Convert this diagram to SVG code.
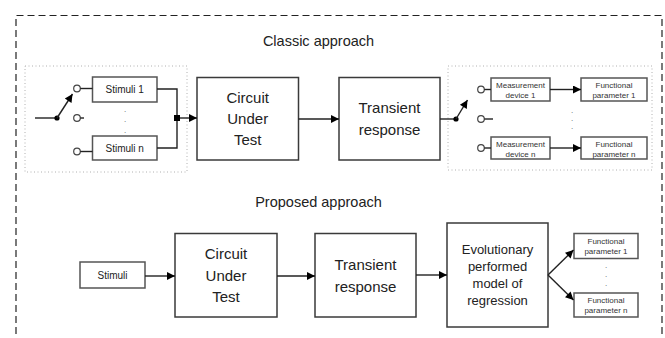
<svg xmlns="http://www.w3.org/2000/svg" width="665" height="338" viewBox="0 0 665 338">
  <defs>
    <marker id="arrow" viewBox="0 0 10 10" refX="10" refY="5" markerWidth="10" markerHeight="8" markerUnits="userSpaceOnUse" orient="auto">
      <path d="M0,0 L10,5 L0,10 z" fill="#000"/>
    </marker>
    <style>
      .frame { fill: none; stroke: #222; stroke-width: 1.2; stroke-dasharray: 7 4; }
      .group { fill: none; stroke: #b0b0b0; stroke-width: 1; stroke-dasharray: 1 2.5; }
      .big { fill: #fff; stroke: #3a3a3a; stroke-width: 1.5; }
      .small { fill: #fff; stroke: #555; stroke-width: 1.5; }
      .wire { fill: none; stroke: #222; stroke-width: 1.4; }
      .arr { fill: none; stroke: #222; stroke-width: 1.4; marker-end: url(#arrow); }
      .pin { fill: #fff; stroke: #444; stroke-width: 1.2; }
      .title { font-family: "Liberation Sans", Arial, sans-serif; font-size: 14.5px; fill: #222; text-anchor: middle; }
      .lbl { font-family: "Liberation Sans", Arial, sans-serif; font-size: 15px; fill: #222; text-anchor: middle; }
      .lbl13 { font-family: "Liberation Sans", Arial, sans-serif; font-size: 13px; fill: #222; text-anchor: middle; }
      .lbl10 { font-family: "Liberation Sans", Arial, sans-serif; font-size: 10px; fill: #222; text-anchor: middle; }
      .lbl8 { font-family: "Liberation Sans", Arial, sans-serif; font-size: 8px; fill: #333; text-anchor: middle; }
      .dot { font-family: "Liberation Sans", Arial, sans-serif; font-size: 8px; fill: #555; text-anchor: middle; }
    </style>
  </defs>

  <rect width="665" height="338" fill="#fff"/>

  <!-- outer dashed frame (open at the bottom) -->
  <path class="frame" d="M16,345 L16,15.5 L662,15.5 L662,345"/>

  <!-- section titles -->
  <text class="title" x="318.5" y="46">Classic approach</text>
  <text class="title" x="318.5" y="207">Proposed approach</text>

  <!-- dotted groups -->
  <rect class="group" x="25" y="66" width="162" height="106"/>
  <rect class="group" x="448" y="66" width="204" height="104"/>

  <!-- classic approach: stimuli selector -->
  <g id="stimuli-1">
    <rect class="small" x="92.5" y="77" width="64.5" height="25"/>
    <text class="lbl10" x="124.7" y="93">Stimuli 1</text>
  </g>
  <g id="stimuli-n">
    <rect class="small" x="92.5" y="136" width="64.5" height="24"/>
    <text class="lbl10" x="124.7" y="151.5">Stimuli n</text>
  </g>
  <text class="dot" x="125" y="112">.</text>
  <text class="dot" x="125" y="122">.</text>
  <text class="dot" x="125" y="133">.</text>

  <g id="cut-classic">
    <rect class="big" x="197" y="77.5" width="101.5" height="82.5"/>
    <text class="lbl" x="247.7" y="103">Circuit</text>
    <text class="lbl" x="247.7" y="124">Under</text>
    <text class="lbl" x="247.7" y="145">Test</text>
  </g>
  <g id="transient-classic">
    <rect class="big" x="339" y="77.5" width="101" height="82.5"/>
    <text class="lbl" x="389.5" y="113">Transient</text>
    <text class="lbl" x="389.5" y="135">response</text>
  </g>

  <!-- classic approach: measurement chain -->
  <g id="meas-1">
    <rect class="small" x="491" y="78" width="59" height="23"/>
    <text class="lbl8" x="520.5" y="88">Measurement</text>
    <text class="lbl8" x="520.5" y="98">device 1</text>
  </g>
  <g id="meas-n">
    <rect class="small" x="491" y="137" width="59" height="22"/>
    <text class="lbl8" x="520.5" y="146.5">Measurement</text>
    <text class="lbl8" x="520.5" y="156.5">device n</text>
  </g>
  <g id="param-1-classic">
    <rect class="small" x="581" y="78" width="66" height="23"/>
    <text class="lbl8" x="614" y="88">Functional</text>
    <text class="lbl8" x="614" y="98">parameter 1</text>
  </g>
  <g id="param-n-classic">
    <rect class="small" x="581" y="137" width="66" height="22"/>
    <text class="lbl8" x="614" y="146.5">Functional</text>
    <text class="lbl8" x="614" y="156.5">parameter n</text>
  </g>
  <text class="dot" x="572" y="113">.</text>
  <text class="dot" x="572" y="121">.</text>
  <text class="dot" x="572" y="129">.</text>

  <!-- proposed approach -->
  <g id="stimuli">
    <rect class="small" x="80" y="262" width="65" height="26"/>
    <text class="lbl10" x="112.5" y="279">Stimuli</text>
  </g>
  <g id="cut-proposed">
    <rect class="big" x="175" y="233.5" width="102" height="83.5"/>
    <text class="lbl" x="226" y="259">Circuit</text>
    <text class="lbl" x="226" y="281">Under</text>
    <text class="lbl" x="226" y="302">Test</text>
  </g>
  <g id="transient-proposed">
    <rect class="big" x="315" y="233.5" width="101" height="83.5"/>
    <text class="lbl" x="365.5" y="270">Transient</text>
    <text class="lbl" x="365.5" y="292">response</text>
  </g>
  <g id="regression-model">
    <rect class="big" x="447" y="223" width="101" height="104"/>
    <text class="lbl13" x="497.5" y="253.5">Evolutionary</text>
    <text class="lbl13" x="497.5" y="271">performed</text>
    <text class="lbl13" x="497.5" y="288">model of</text>
    <text class="lbl13" x="497.5" y="305">regression</text>
  </g>
  <g id="param-1-proposed">
    <rect class="small" x="574" y="233.5" width="64" height="25"/>
    <text class="lbl8" x="606" y="244">Functional</text>
    <text class="lbl8" x="606" y="254">parameter 1</text>
  </g>
  <g id="param-n-proposed">
    <rect class="small" x="574" y="293" width="64" height="24"/>
    <text class="lbl8" x="606" y="303">Functional</text>
    <text class="lbl8" x="606" y="313">parameter n</text>
  </g>
  <text class="dot" x="606" y="268">.</text>
  <text class="dot" x="606" y="277">.</text>
  <text class="dot" x="606" y="286">.</text>

  <!-- connectors -->
  <g id="connectors">
    <!-- input selector switch -->
    <line class="wire" x1="35" y1="118" x2="57" y2="118"/>
    <circle cx="57" cy="118" r="2.6" fill="#000"/>
    <line class="arr" x1="57" y1="118" x2="72.5" y2="94"/>
    <circle class="pin" cx="77" cy="88.5" r="3.3"/>
    <circle class="pin" cx="77" cy="118" r="3.3"/>
    <circle class="pin" cx="77" cy="151.5" r="3.3"/>
    <line class="wire" x1="80.3" y1="88.5" x2="92.5" y2="88.5"/>
    <line class="wire" x1="80.3" y1="118" x2="84" y2="118"/>
    <line class="wire" x1="80.3" y1="151.5" x2="92.5" y2="151.5"/>
    <!-- stimuli merge -->
    <path class="wire" d="M157,89 H177 V148 H157"/>
    <rect x="174" y="115" width="6" height="6" fill="#000"/>
    <line class="arr" x1="180" y1="118" x2="197" y2="118"/>
    <line class="arr" x1="298.5" y1="119" x2="339" y2="119"/>
    <!-- output selector switch -->
    <line class="wire" x1="440" y1="119" x2="456" y2="119"/>
    <circle cx="456" cy="119" r="2.6" fill="#000"/>
    <line class="arr" x1="456" y1="119" x2="467.5" y2="100"/>
    <circle class="pin" cx="481" cy="89.5" r="3.3"/>
    <circle class="pin" cx="481" cy="119" r="3.3"/>
    <circle class="pin" cx="481" cy="148" r="3.3"/>
    <line class="wire" x1="484.3" y1="89.5" x2="491" y2="89.5"/>
    <line class="wire" x1="484.3" y1="119" x2="493" y2="119"/>
    <line class="wire" x1="484.3" y1="148" x2="491" y2="148"/>
    <line class="arr" x1="550" y1="89.5" x2="581" y2="89.5"/>
    <line class="arr" x1="550" y1="148" x2="581" y2="148"/>
    <!-- proposed chain -->
    <line class="arr" x1="145" y1="276" x2="175" y2="276"/>
    <line class="arr" x1="277" y1="276" x2="315" y2="276"/>
    <line class="arr" x1="416" y1="275" x2="447" y2="275"/>
    <line class="arr" x1="548" y1="275" x2="573.5" y2="250"/>
    <line class="arr" x1="548" y1="275" x2="573.5" y2="300"/>
  </g>
</svg>
